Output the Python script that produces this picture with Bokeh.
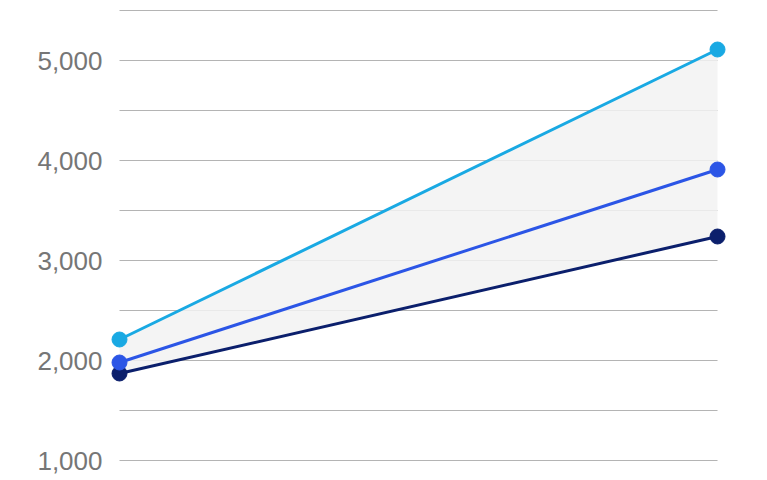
from bokeh.plotting import figure
from bokeh.models import FixedTicker, Range1d, NumeralTickFormatter
from bokeh.embed import file_html
from bokeh.resources import INLINE

x_pos = [0, 1]
high = [2210, 5110]
mid = [1980, 3910]
low = [1870, 3240]
y_ticks = [1000, 2000, 3000, 4000, 5000]
grid_vals = [1000, 1500, 2000, 2500, 3000, 3500, 4000, 4500, 5000, 5500]

c_high = "#19a9e3"
c_mid = "#2b55e6"
c_low = "#0b1f6c"

p = figure(width=751, height=478, output_backend="svg", toolbar_location=None,
           x_range=Range1d(-0.0184, 1.0518), y_range=Range1d(820, 5520),
           min_border_left=108, min_border_right=3, min_border_top=8, min_border_bottom=0)
p.outline_line_color = None
p.xaxis.visible = False
p.xgrid.visible = False
p.ygrid.visible = False

yax = p.yaxis[0]
yax.ticker = FixedTicker(ticks=y_ticks)
yax.formatter = NumeralTickFormatter(format="0,0")
yax.axis_line_color = None
yax.major_tick_line_color = None
yax.minor_tick_line_color = None
yax.major_tick_out = 0
yax.major_label_standoff = 6
yax.major_label_text_font = "Liberation Sans"
yax.major_label_text_font_size = "26px"
yax.major_label_text_color = "#767676"

# grid lines across the data span
p.segment(x0=[x_pos[0]] * len(grid_vals), x1=[x_pos[-1]] * len(grid_vals),
          y0=grid_vals, y1=grid_vals, line_color="#b4b4b4", line_width=1)

# shaded band between top and bottom series
p.varea(x=x_pos, y1=low, y2=high, fill_color="#f2f2f2", fill_alpha=0.85)

for ys, c in [(low, c_low), (mid, c_mid), (high, c_high)]:
    p.line(x_pos, ys, line_color=c, line_width=3)
    p.scatter(x_pos, ys, size=15, fill_color=c, line_color=c)

open("out.html", "w").write(file_html(p, INLINE))
